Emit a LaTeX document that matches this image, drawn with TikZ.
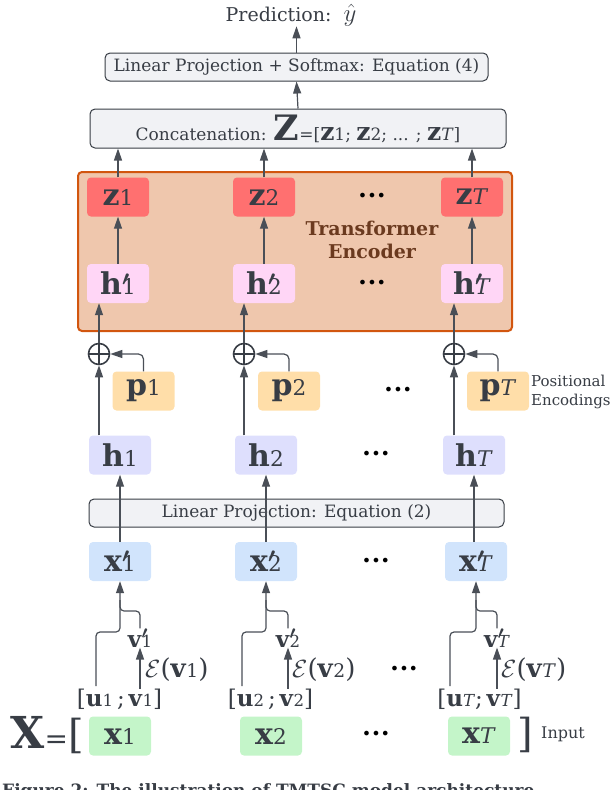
\documentclass[tikz,border=0pt]{standalone}
\usepackage{fontspec}
\setmainfont{DejaVu Serif}
\usepackage{amsmath,amssymb}
\usepackage{graphicx}
\usepackage{xcolor}
\definecolor{inkGray}{HTML}{383D45}
\definecolor{lineGray}{HTML}{4A4F57}
\definecolor{boxGray}{HTML}{F1F2F5}
\definecolor{encFill}{HTML}{EFC7AD}
\definecolor{encEdge}{HTML}{D2560F}
\definecolor{encText}{HTML}{6B3A1F}
\definecolor{zFill}{HTML}{FF7070}
\definecolor{hpFill}{HTML}{FFD6F6}
\definecolor{pFill}{HTML}{FFDEA9}
\definecolor{hFill}{HTML}{DEDFFD}
\definecolor{xpFill}{HTML}{D1E4FC}
\definecolor{xFill}{HTML}{C4F5C9}
\usetikzlibrary{arrows.meta, positioning, calc}

\newcommand{\pxfont}[1]{\fontsize{#1}{#1}\selectfont}
\newcommand{\idx}[1]{\scalebox{0.72}{#1}}
\newcommand{\prm}{\rlap{$^{\boldsymbol{\prime}}$}}
\newcommand{\bvec}[2]{\textbf{#1}\idx{#2}}
\newcommand{\bvecp}[2]{\textbf{#1}\prm\idx{#2}}
\newcommand{\lastT}{\textit{T}}

\begin{document}
\begin{tikzpicture}[
    x=1pt, y=-1pt,
    tok/.style    ={rectangle, rounded corners=4pt, inner sep=0pt,
                    minimum width=62pt, minimum height=39pt,
                    text=inkGray, font=\pxfont{30}},
    ztok/.style   ={tok, fill=zFill},
    hptok/.style  ={tok, fill=hpFill},
    ptok/.style   ={tok, fill=pFill},
    htok/.style   ={tok, fill=hFill},
    xptok/.style  ={tok, fill=xpFill},
    xtok/.style   ={tok, fill=xFill},
    band/.style   ={rectangle, rounded corners=5pt, draw=inkGray, line width=1pt,
                    fill=boxGray, inner sep=0pt, text=inkGray, font=\pxfont{17}},
    encoder/.style={rectangle, rounded corners=4pt, draw=encEdge, line width=2pt,
                    fill=encFill, inner sep=0pt},
    lbl/.style    ={inner sep=0pt, text=inkGray},
    vlbl/.style   ={lbl, font=\pxfont{23}},
    dots/.style   ={inner sep=0pt, text=black, font=\pxfont{16}},
    plus/.style   ={circle, draw=inkGray, line width=1.6pt, minimum size=21pt, inner sep=0pt,
                    path picture={\draw[inkGray, line width=1.6pt]
                      (path picture bounding box.north) -- (path picture bounding box.south)
                      (path picture bounding box.west) -- (path picture bounding box.east);}},
    arrow/.style  ={-{Triangle[length=12pt, width=8pt]}, line width=1.2pt, draw=lineGray},
    wire/.style   ={line width=1.2pt, draw=lineGray}
]
\useasboundingbox (0,0) rectangle (610,790);
\clip (0,0) rectangle (610,790);

\node[lbl, font=\pxfont{19}] (pred) at (291,15) {Prediction:\ \ {\pxfont{27}$\hat{y}$}};
\node[band, minimum width=383pt, minimum height=28pt] (lsm) at (296.5,67) {Linear Projection + Softmax: Equation (4)};
\node[band, minimum width=416pt, minimum height=39pt] (cat) at (298,128.5)
  {Concatenation: {\pxfont{35}\bfseries Z}=[{\pxfont{25}\bfseries z}1; {\pxfont{25}\bfseries z}2; ... ; {\pxfont{25}\bfseries z}\lastT]};

\node[encoder, minimum width=434pt, minimum height=159pt] (enc) at (295,251.5) {};
\node[lbl, text=encText, font=\fontsize{19}{23}\selectfont\bfseries, align=center] (enclbl) at (372,240) {Transformer\\Encoder};

\node[ztok] (z1) at (118,197) {\bvec{z}{1}};
\node[ztok] (z2) at (264,197) {\bvec{z}{2}};
\node[ztok] (z3) at (472,197) {\bvec{z}{\lastT}};
\node[dots] (zdots) at (372,197) {•••};

\node[hptok] (hp1) at (118,283.5) {\bvecp{h}{1}};
\node[hptok] (hp2) at (264,283.5) {\bvecp{h}{2}};
\node[hptok] (hp3) at (472,283.5) {\bvecp{h}{\lastT}};
\node[dots] (hpdots) at (372,284) {•••};

\node[plus] (o1) at (99,354) {};
\node[plus] (o2) at (244,354) {};
\node[plus] (o3) at (454,354) {};

\node[ptok] (p1) at (143.5,391) {\bvec{p}{1}};
\node[ptok] (p2) at (289,391) {\bvec{p}{2}};
\node[ptok] (p3) at (498,391) {\bvec{p}{\lastT}};
\node[dots] (pdots) at (398,391) {•••};
\node[lbl, font=\fontsize{15}{19}\selectfont, align=left, anchor=west] (poslbl) at (531,392) {Positional\\Encodings};

\node[htok] (h1) at (120,455) {\bvec{h}{1}};
\node[htok] (h2) at (266,455) {\bvec{h}{2}};
\node[htok] (h3) at (474,455) {\bvec{h}{\lastT}};
\node[dots] (hdots) at (376,455) {•••};

\node[band, minimum width=415pt, minimum height=28pt] (lp) at (296.5,513) {Linear Projection: Equation (2)};

\node[xptok] (xp1) at (120,561.5) {\bvecp{x}{1}};
\node[xptok] (xp2) at (266,561.5) {\bvecp{x}{2}};
\node[xptok] (xp3) at (476,561.5) {\bvecp{x}{\lastT}};
\node[dots] (xpdots) at (376,562) {•••};

\node[vlbl] (vp1) at (140,638) {\bvecp{v}{1}};
\node[vlbl] (vp2) at (288,638) {\bvecp{v}{2}};
\node[vlbl] (vp3) at (497,638) {\bvecp{v}{\lastT}};
\node[lbl, font=\pxfont{26}, anchor=west] (ev1) at (145,670) {$\mathcal{E}$(\bvec{v}{1})};
\node[lbl, font=\pxfont{26}, anchor=west] (ev2) at (292,670) {$\mathcal{E}$(\bvec{v}{2})};
\node[lbl, font=\pxfont{26}, anchor=west] (ev3) at (501,670) {$\mathcal{E}$(\bvec{v}{\lastT})};
\node[dots] (evdots) at (404,670) {•••};
\node[vlbl] (uv1) at (119.5,699) {[\bvec{u}{1}\,;\,\bvec{v}{1}]};
\node[vlbl] (uv2) at (270.5,699) {[\bvec{u}{2}\,;\,\bvec{v}{2}]};
\node[vlbl] (uv3) at (479.5,699) {[\bvec{u}{\lastT};\,\bvec{v}{\lastT}]};

\node[xtok] (x1) at (120,736) {\bvec{x}{1}};
\node[xtok] (x2) at (271,736) {\bvec{x}{2}};
\node[xtok] (x3) at (479,736) {\bvec{x}{\lastT}};
\node[dots] (xdots) at (376,735) {•••};
\node[lbl, anchor=east] (xlab) at (84,735) {{\pxfont{44}\bfseries X}{\pxfont{28}=}{\pxfont{40}[}};
\node[lbl, font=\pxfont{40}] (rbr) at (525,735) {]};
\node[lbl, font=\pxfont{16}, anchor=west] (inlbl) at (541,734) {Input};
\node[lbl, font=\pxfont{17}\bfseries, anchor=base west] (caption) at (2,796) {Figure 2: The illustration of TMTSC model architecture};

\coordinate (u1) at (96,686);
\coordinate (u2) at (242,686);
\coordinate (u3) at (450,686);

\draw[arrow] (lsm.north) -- (lsm.north |- pred.south);
\draw[arrow] (cat.north) -- (lsm.south);
\draw[arrow] (z1.north) -- (z1.north |- cat.south);
\draw[arrow] (z2.north) -- (z2.north |- cat.south);
\draw[arrow] (z3.north) -- (z3.north |- cat.south);
\draw[arrow] (hp1.north) -- (z1.south);
\draw[arrow] (hp2.north) -- (z2.south);
\draw[arrow] (hp3.north) -- (z3.south);
\draw[arrow] (o1.north) -- (o1.north |- hp1.south);
\draw[arrow] (o2.north) -- (o2.north |- hp2.south);
\draw[arrow] (o3.north) -- (o3.north |- hp3.south);
\draw[arrow] (h1.north -| o1) -- (o1.south);
\draw[arrow] (h2.north -| o2) -- (o2.south);
\draw[arrow] (h3.north -| o3) -- (o3.south);
\draw[arrow, rounded corners=5pt] (p1.north) |- (o1.east);
\draw[arrow, rounded corners=5pt] (p2.north) |- (o2.east);
\draw[arrow, rounded corners=5pt] (p3.north) |- (o3.east);
\draw[arrow] (xp1.north) -- (h1.south);
\draw[arrow] (xp2.north) -- (h2.south);
\draw[arrow] (xp3.north -| h3) -- (h3.south);

\draw[arrow, rounded corners=4pt] (u1) -- (96,632) -- (120,632) -- (xp1.south);
\draw[arrow, rounded corners=4pt] (u2) -- (242,632) -- (266,632) -- (xp2.south);
\draw[arrow, rounded corners=4pt] (u3) -- (450,632) -- (476,632) -- (xp3.south);
\draw[wire, rounded corners=4pt] (vp1.north) -- (140,611) -- (120,611) -- (120,600);
\draw[wire, rounded corners=4pt] (vp2.north) -- (288,611) -- (266,611) -- (266,600);
\draw[wire, rounded corners=4pt] (vp3.north -| 497,0) -- (497,611) -- (476,611) -- (476,600);
\draw[arrow] (uv1.north -| vp1) -- (vp1.south);
\draw[arrow] (uv2.north -| vp2) -- (vp2.south);
\draw[arrow] (uv3.north -| vp3) -- (vp3.south);
\end{tikzpicture}
\end{document}
